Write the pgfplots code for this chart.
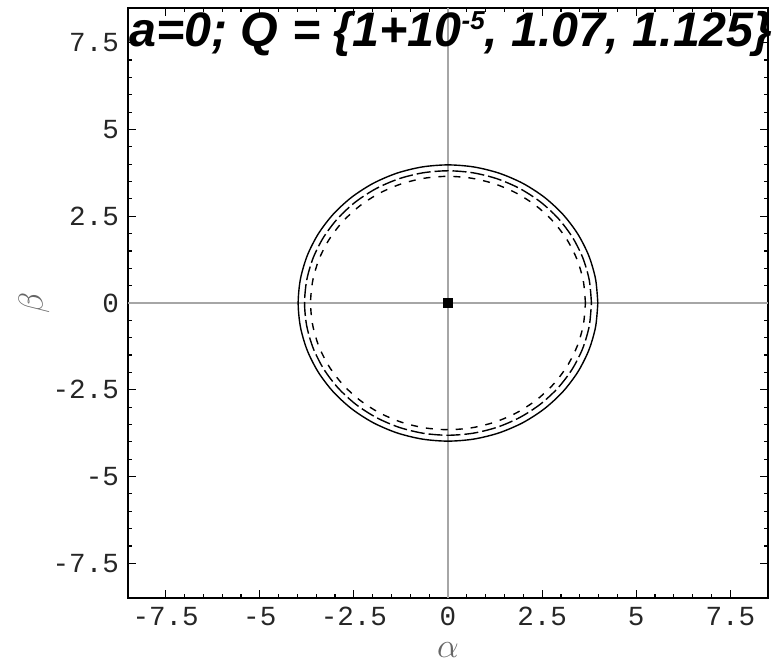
\documentclass[border=0pt]{standalone}
\usepackage{fontspec}
\usepackage{pgfplots}
\usepackage{pgfplotstable}
\pgfplotsset{compat=1.18}
\setmainfont{Liberation Sans}
\newfontfamily\tickfont{Liberation Mono}

% shadow boundaries: polar angle (deg) and radius for the three charges
\pgfplotstableread{
ang   rA    rB    rC
0     3.98  3.81  3.65
10    3.98  3.81  3.65
20    3.98  3.81  3.65
30    3.98  3.81  3.65
40    3.98  3.81  3.65
50    3.98  3.81  3.65
60    3.98  3.81  3.65
70    3.98  3.81  3.65
80    3.98  3.81  3.65
90    3.98  3.81  3.65
100   3.98  3.81  3.65
110   3.98  3.81  3.65
120   3.98  3.81  3.65
130   3.98  3.81  3.65
140   3.98  3.81  3.65
150   3.98  3.81  3.65
160   3.98  3.81  3.65
170   3.98  3.81  3.65
180   3.98  3.81  3.65
190   3.98  3.81  3.65
200   3.98  3.81  3.65
210   3.98  3.81  3.65
220   3.98  3.81  3.65
230   3.98  3.81  3.65
240   3.98  3.81  3.65
250   3.98  3.81  3.65
260   3.98  3.81  3.65
270   3.98  3.81  3.65
280   3.98  3.81  3.65
290   3.98  3.81  3.65
300   3.98  3.81  3.65
310   3.98  3.81  3.65
320   3.98  3.81  3.65
330   3.98  3.81  3.65
340   3.98  3.81  3.65
350   3.98  3.81  3.65
360   3.98  3.81  3.65
}\shadow

\begin{document}
\begin{tikzpicture}
\useasboundingbox (-64pt,-33.5pt) rectangle (323pt,299pt);
\begin{axis}[
  scale only axis,
  width=320pt, height=295pt,
  xmin=-8.5, xmax=8.5, ymin=-8.5, ymax=8.5,
  xtick={-7.5,-5,-2.5,0,2.5,5,7.5},
  ytick={-7.5,-5,-2.5,0,2.5,5,7.5},
  xticklabels={-7.5,-5,-2.5,0,2.5,5,7.5},
  yticklabels={-7.5,-5,-2.5,0,2.5,5,7.5},
  minor x tick num=4, minor y tick num=4,
  tick align=inside,
  major tick length=4pt, minor tick length=2pt,
  tick style={black, line width=0.6pt},
  axis line style={line width=1pt},
  ticklabel style={font=\tickfont\fontsize{13.8}{14}\selectfont, text=black!85},
  xticklabel style={yshift=-1pt},
  yticklabel style={xshift=-1pt},
  extra x ticks={0}, extra y ticks={0},
  extra x tick labels={}, extra y tick labels={},
  extra tick style={grid=major, major grid style={black!35, line width=0.6pt}, major tick length=0pt},
  xlabel={$\alpha$}, ylabel={$\beta$},
  x label style={at={(axis description cs:0.5,0)}, anchor=center, yshift=-26pt, text=black!60, font=\fontsize{16}{17}\selectfont},
  y label style={at={(axis description cs:0,0.5)}, anchor=center, yshift=47pt, text=black!60, font=\fontsize{16}{17}\selectfont},
  clip=false,
]
\addplot[black, line width=0.7pt, smooth, data cs=polar] table[x=ang, y=rA] {\shadow};
\addplot[black, line width=0.7pt, smooth, data cs=polar, dash pattern=on 7pt off 2pt] table[x=ang, y=rB] {\shadow};
\addplot[black, line width=0.7pt, smooth, data cs=polar, dash pattern=on 3.5pt off 4pt] table[x=ang, y=rC] {\shadow};
\addplot[only marks, mark=square*, mark size=2.2pt, black] coordinates {(0,0)};
\end{axis}
\node[anchor=base, inner sep=0pt, font=\bfseries\itshape\fontsize{24.2}{25}\selectfont] at (161.5pt,275.5pt) {a=0; Q = \{1+10\raisebox{0.36em}{\fontsize{13}{13}\selectfont -5}, 1.07, 1.125\}};
\end{tikzpicture}
\end{document}
